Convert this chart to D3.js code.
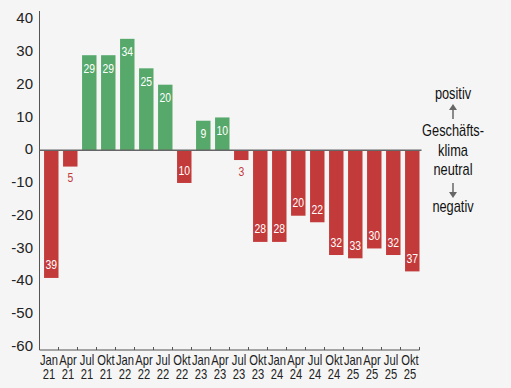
<!DOCTYPE html>
<html>
<head>
<meta charset="utf-8">
<script src="https://cdn.jsdelivr.net/npm/d3@7"></script>
<style>
  body { margin: 0; background: #f5f5f5; }
  svg { display: block; }
  text { font-family: "Liberation Sans", Arial, sans-serif; }
</style>
</head>
<body>
<div id="chart"></div>
<script>
// data
const quarters = ["Jan", "Apr", "Jul", "Okt", "Jan", "Apr", "Jul", "Okt", "Jan", "Apr",
                  "Jul", "Okt", "Jan", "Apr", "Jul", "Okt", "Jan", "Apr", "Jul", "Okt"];
const years = ["21", "21", "21", "21", "22", "22", "22", "22", "23", "23",
               "23", "23", "24", "24", "24", "24", "25", "25", "25", "25"];
const values = [-39, -5, 29, 29, 34, 25, 20, -10, 9, 10,
                -3, -28, -28, -20, -22, -32, -33, -30, -32, -37];
const yTicks = [40, 30, 20, 10, 0, -10, -20, -30, -40, -50, -60];
const sideLabels = ["positiv", "Geschäfts-", "klima", "neutral", "negativ"];

const W = 511, H = 388;
const green = "#56a96b", red = "#c33a3a";
const narrow = 0.8; // horizontal squeeze to mimic a condensed face

const svg = d3.select("#chart")
  .append("svg")
  .attr("width", W)
  .attr("height", H);

const ids = values.map((d, i) => i);

// scales
const x = d3.scaleBand()
  .domain(ids)
  .range([39.5, 419.5])
  .padding(0);

const y = d3.scaleLinear()
  .domain([-61, 42.5])
  .range([350, 11]);

// y axis line + labels
svg.append("line")
  .attr("x1", 39.5).attr("x2", 39.5)
  .attr("y1", y(42.5)).attr("y2", y(-61))
  .attr("stroke", "#555").attr("stroke-width", 1);

svg.selectAll(".ytick")
  .data(yTicks)
  .enter().append("text")
  .attr("class", "ytick")
  .attr("x", 33)
  .attr("y", d => y(d) - 1)
  .attr("dy", "0.35em")
  .attr("text-anchor", "end")
  .style("font-size", "15px")
  .style("fill", "#222")
  .text(d => d);

// bars
const bw = x.bandwidth();
svg.selectAll(".bar")
  .data(values)
  .enter().append("rect")
  .attr("class", "bar")
  .attr("x", (d, i) => x(i) + bw * 0.24)
  .attr("width", bw * 0.76)
  .attr("y", d => d >= 0 ? y(d) : y(0))
  .attr("height", d => Math.abs(y(d) - y(0)))
  .style("fill", d => d >= 0 ? green : red);

// value labels
svg.selectAll(".val")
  .data(values)
  .enter().append("text")
  .attr("class", "val")
  .attr("transform", (d, i) => {
    const ly = Math.abs(d) < 6 ? y(d) + 11 : (d >= 0 ? y(d) + 13 : y(d) - 13);
    return "translate(" + (x(i) + bw * 0.62) + "," + ly + ") scale(" + narrow + ",1)";
  })
  .attr("dy", "0.35em")
  .attr("text-anchor", "middle")
  .style("font-size", "13px")
  .style("fill", d => Math.abs(d) < 6 ? red : "#fff")
  .text(d => Math.abs(d));

// zero line
svg.append("line")
  .attr("x1", 39.5).attr("x2", 421.5)
  .attr("y1", y(0)).attr("y2", y(0))
  .attr("stroke", "#666").attr("stroke-width", 1.5);

// x axis
const xAxis = svg.append("g")
  .attr("transform", "translate(0," + y(-61) + ")");
xAxis.append("line")
  .attr("x1", 39.5).attr("x2", 419.5)
  .attr("stroke", "#555");
xAxis.selectAll(".tk")
  .data(d3.range(values.length + 1))
  .enter().append("line")
  .attr("x1", i => 39.5 + i * bw).attr("x2", i => 39.5 + i * bw)
  .attr("y1", 0).attr("y2", -3)
  .attr("stroke", "#555");
const xl = xAxis.selectAll(".xl")
  .data(ids)
  .enter().append("text")
  .attr("class", "xl")
  .attr("transform", i => "translate(" + (x(i) + bw / 2) + ",0) scale(" + narrow + ",1)")
  .attr("text-anchor", "middle")
  .style("font-size", "14px")
  .style("fill", "#222");
xl.append("tspan")
  .attr("x", 0)
  .attr("y", 15)
  .text(i => quarters[i]);
xl.append("tspan")
  .attr("x", 0)
  .attr("y", 29)
  .text(i => years[i]);

// side annotation
const sideY = [93, 130, 150, 169, 206];
svg.selectAll(".side")
  .data(sideLabels)
  .enter().append("text")
  .attr("class", "side")
  .attr("transform", (d, i) => "translate(453," + sideY[i] + ") scale(" + narrow + ",1)")
  .attr("dy", "0.35em")
  .attr("text-anchor", "middle")
  .style("font-size", "16px")
  .style("fill", "#111")
  .text(d => d);

// arrows
svg.append("line")
  .attr("x1", 453).attr("x2", 453)
  .attr("y1", 119).attr("y2", 109)
  .attr("stroke", "#666").attr("stroke-width", 1.5);
svg.append("path")
  .attr("d", "M449,110 L453,104 L457,110 Z")
  .style("fill", "#666");
svg.append("line")
  .attr("x1", 453).attr("x2", 453)
  .attr("y1", 183).attr("y2", 193)
  .attr("stroke", "#666").attr("stroke-width", 1.5);
svg.append("path")
  .attr("d", "M449,192 L453,198 L457,192 Z")
  .style("fill", "#666");
</script>
</body>
</html>
